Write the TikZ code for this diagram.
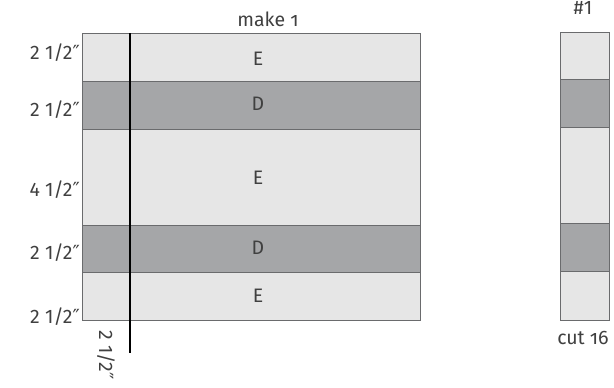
\documentclass[tikz,border=0pt]{standalone}
\usepackage{fontspec}
\setmainfont{Fira Sans}
\newfontfamily\oldnum[Numbers=OldStyle]{Fira Sans}
\newfontfamily\dv{DejaVu Sans}
\newcommand{\inch}{{\dv ″}}
\definecolor{lightfab}{HTML}{E6E6E6}
\definecolor{darkfab}{HTML}{A5A6A8}
\definecolor{edge}{HTML}{6A6B6D}
\definecolor{ink}{HTML}{404040}
\begin{document}
\begin{tikzpicture}[x=1pt,y=-1pt,
  stripe/.style={draw=edge,line width=1pt,inner sep=0pt,anchor=north west,minimum width=#1},
  lt/.style={fill=lightfab},
  dk/.style={fill=darkfab},
  lbl/.style={text=ink,font=\fontsize{19.5}{19.5}\selectfont,inner sep=0pt},
  sz/.style={lbl,anchor=east}]
\useasboundingbox (0,0) rectangle (614,388);
% big block
\node[stripe=338pt,lt,minimum height=48pt] (e1) at (82,33) {};
\node[stripe=338pt,dk,minimum height=48pt] (d1) at (82,81) {};
\node[stripe=338pt,lt,minimum height=96pt] (e2) at (82,129) {};
\node[stripe=338pt,dk,minimum height=47pt] (d2) at (82,225) {};
\node[stripe=338pt,lt,minimum height=48pt] (e3) at (82,272) {};
\node[lbl] (te1) at (258,59) {E};
\node[lbl] (td1) at (258,104) {D};
\node[lbl] (te2) at (258,178) {E};
\node[lbl] (td2) at (258,248) {D};
\node[lbl] (te3) at (258,296) {E};
% cutting line
\coordinate (ct) at (130,33);
\coordinate (cb) at (130,353);
\draw[line width=1.8pt,black] (ct) -- (cb);
% size labels
\node[sz] (s1) at (80,53) {2 1/2\inch};
\node[sz] (s2) at (80,110) {2 1/2\inch};
\node[sz] (s3) at (80,190) {4 1/2\inch};
\node[sz] (s4) at (80,253) {2 1/2\inch};
\node[sz] (s5) at (80,317) {2 1/2\inch};
\node[lbl,rotate=-90,anchor=west] (sb) at (106,330) {2 1/2\inch};
\node[lbl] (mk) at (268,19) {\oldnum make 1};
% strip
\node[stripe=49pt,lt,minimum height=47pt] (r1) at (560,32) {};
\node[stripe=49pt,dk,minimum height=48pt] (r2) at (560,79) {};
\node[stripe=49pt,lt,minimum height=96pt] (r3) at (560,127) {};
\node[stripe=49pt,dk,minimum height=48pt] (r4) at (560,223) {};
\node[stripe=49pt,lt,minimum height=49pt] (r5) at (560,271) {};
\node[lbl] (num) at (583,8) {\#1};
\node[lbl] (cut) at (583,338) {\oldnum cut 16};
\end{tikzpicture}
\end{document}
